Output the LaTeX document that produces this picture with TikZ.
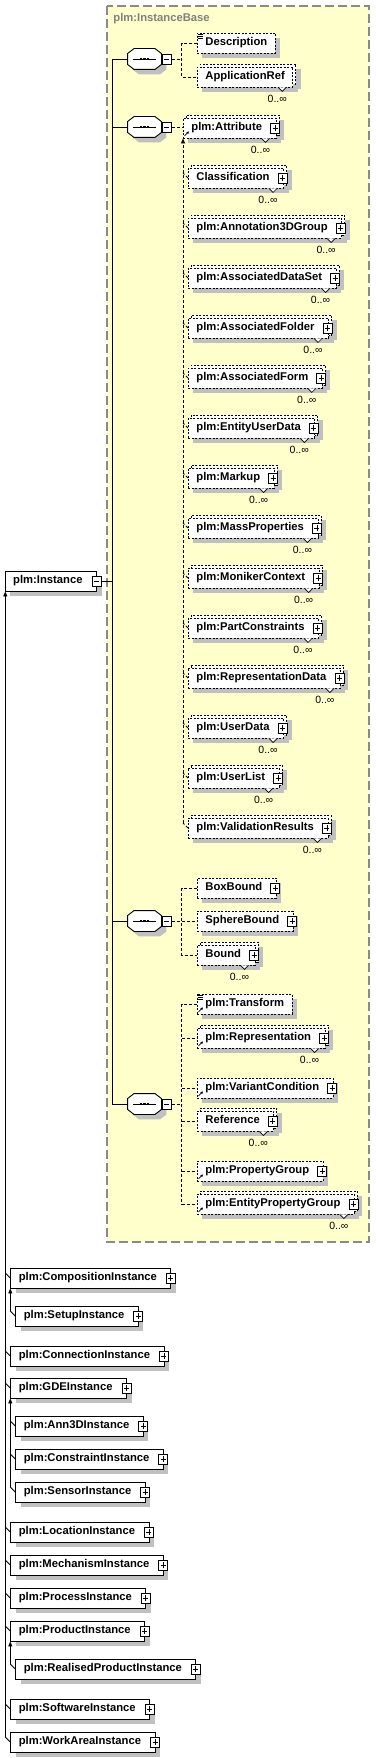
\documentclass[tikz,border=0pt]{standalone}
\usepackage{fontspec}
\setmainfont{Liberation Sans}
\usetikzlibrary{arrows.meta}

\definecolor{baseYellow}{HTML}{FFFFCC}
\definecolor{baseFrame}{HTML}{8A8A8A}
\definecolor{shadowGray}{HTML}{C0C0C0}
\definecolor{titleGray}{HTML}{808080}

% octagon round a compositor node
\newcommand\octo[1]{([xshift=6.5pt]#1.north west) -- ([xshift=-6.5pt]#1.north east)
  -- ([yshift=-5pt]#1.north east) -- ([yshift=5pt]#1.south east) -- ([xshift=-6.5pt]#1.south east)
  -- ([xshift=6.5pt]#1.south west) -- ([yshift=5pt]#1.south west) -- ([yshift=-5pt]#1.north west) -- cycle}

\begin{document}
\begin{tikzpicture}[x=1pt,y=-1pt,line width=0.9pt,
  dropgray/.style={preaction={fill=shadowGray,transform canvas={shift={(5pt,-5pt)}}}},
  solidbox/.style={draw,fill=white,anchor=west,minimum height=20pt,inner xsep=8pt,inner ysep=0pt,
    text height=8pt,text depth=2.5pt,font=\bfseries\fontsize{11.25}{13}\selectfont,dropgray},
  optbox/.style={solidbox,dash pattern=on 2pt off 1.5pt},
  many/.style={preaction={fill=shadowGray,transform canvas={shift={(8pt,-2pt)}}},
    preaction={draw,fill=white,dash pattern=on 2pt off 1.5pt,transform canvas={shift={(3pt,3pt)}}}},
  sign/.style={draw,solid,fill=white,line width=0.8pt,minimum width=9pt,minimum height=10pt,inner sep=0pt},
  mbox/.style={sign,path picture={\draw[line width=0.8pt] ([xshift=2pt]path picture bounding box.west)
    -- ([xshift=-2pt]path picture bounding box.east);}},
  pbox/.style={sign,path picture={\draw[line width=0.8pt] ([xshift=2pt]path picture bounding box.west)
    -- ([xshift=-2pt]path picture bounding box.east) ([yshift=-2pt]path picture bounding box.north)
    -- ([yshift=2pt]path picture bounding box.south);}},
  seq/.style={minimum width=33pt,minimum height=20pt,inner sep=0pt},
  link/.style={line width=0.9pt},
  conn/.style={line width=0.9pt,dash pattern=on 3pt off 2pt},
  uparrow/.style={-{Triangle[length=5pt,width=4pt]}},
  mult/.style={anchor=east,inner sep=0pt,font=\fontsize{10.5}{12}\selectfont},
  frame/.style={draw=baseFrame,fill=baseYellow,line width=1.2pt,dash pattern=on 9pt off 4pt}]
  \useasboundingbox (0,0) rectangle (375,1758);
  \draw[frame] (107,6) rectangle (369,1242);
  \node[anchor=west,text=titleGray,inner sep=0pt,font=\bfseries\fontsize{11.25}{13}\selectfont] (ttl) at (113,19) {plm:InstanceBase};

  % base type
  \node[solidbox] (inst) at (4.7,581) {plm:Instance\kern6pt};
  \node[mbox] (inst-m) at ([xshift=-0.5pt]inst.east) {};

  % sequences
  \foreach \s/\y in {s1/59,s2/127,s3/921,s4/1104} {
    \node[seq] (\s) at (144.5,\y) {};
    \fill[shadowGray,transform canvas={shift={(5pt,-5pt)}}] \octo{\s};
    \draw[fill=white] \octo{\s};
    \draw ([xshift=5pt]\s.west) -- ([xshift=-5pt]\s.east);
    \foreach \d in {-3.5,0,3.5}
      \fill ([xshift=\d pt]\s.center) +(-1.3pt,-1.4pt) rectangle +(1.3pt,1.4pt);
    \node[mbox] (\s-m) at ([xshift=5.5pt]\s.east) {};
  }

  \node[optbox] (desc) at (197,43) {Description};
  \node[optbox,many] (appref) at (197,77) {ApplicationRef};

  \node[optbox,many] (attr) at (183,128) {plm:Attribute\kern6pt};
  \foreach \i/\nm/\lab in {1/clas/Classification,2/annot/plm:Annotation3DGroup,3/dset/plm:AssociatedDataSet,
      4/fold/plm:AssociatedFolder,5/form/plm:AssociatedForm,6/eud/plm:EntityUserData,7/mark/plm:Markup,
      8/mass/plm:MassProperties,9/mon/plm:MonikerContext,10/pcon/plm:PartConstraints,
      11/rdat/plm:RepresentationData,12/udat/plm:UserData,13/ulist/plm:UserList,14/vres/plm:ValidationResults}
    \node[optbox,many] (\nm) at (188,128+50*\i) {\lab\kern6pt};

  \node[optbox] (boxb) at (197,888) {BoxBound\kern6pt};
  \node[optbox] (sphb) at (197,921) {SphereBound\kern6pt};
  \node[optbox,many] (bnd) at (197,955) {Bound\kern6pt};

  \node[optbox] (trf) at (197,1004) {plm:Transform};
  \node[optbox,many] (repr) at (197,1038) {plm:Representation\kern6pt};
  \node[optbox] (varc) at (197,1088) {plm:VariantCondition\kern6pt};
  \node[optbox,many] (refr) at (197,1121) {Reference\kern6pt};
  \node[optbox] (pgrp) at (197,1171) {plm:PropertyGroup\kern6pt};
  \node[optbox,many] (epg) at (197,1204) {plm:EntityPropertyGroup\kern6pt};

  % expand signs, occurrence marks
  \foreach \nm in {attr,clas,annot,dset,fold,form,eud,mark,mass,mon,pcon,rdat,udat,ulist,vres,
      boxb,sphb,bnd,repr,varc,refr,pgrp,epg}
    \node[pbox] (\nm-p) at ([xshift=-1.5pt]\nm.east) {};
  \foreach \nm in {appref,attr,clas,annot,dset,fold,form,eud,mark,mass,mon,pcon,rdat,udat,ulist,vres,
      bnd,repr,refr,epg} {
    \filldraw[fill=white,line width=0.7pt] ([xshift=-15pt]\nm.south east) -- ++(4,4) -- ++(4,-4);
    \node[mult] (\nm-m) at ([shift={(-6,11)}]\nm.south east) {0..∞};
  }
  \foreach \nm in {attr,trf,repr,varc,pgrp,epg}
    \draw[line width=0.7pt,-{Triangle[length=2.5pt,width=2.5pt]}] ([shift={(1.5,-2.5)}]\nm.south west) -- ++(4.5,-4.5);
  \foreach \nm in {desc,trf}
    \foreach \k in {1.5,3.5,5.5}
      \draw[line width=0.6pt] ([shift={(1,\k)}]\nm.north west) -- ++(5,0);

  % sequence links
  \draw[link] (s1.west) -- ++(-15.5,0) coordinate (strk);
  \draw[link] (strk) -- (strk |- s4.west) -- (s4.west);
  \foreach \s in {s2,s3} \draw[link] (strk |- \s.west) -- (\s.west);
  \draw[link] (inst-m.east) -- (strk |- inst-m.east);

  \draw[conn] (s1-m.east) -- ++(10,0) coordinate (j1);
  \draw[conn] (desc.west) -| (j1) |- (appref.west);
  \draw[conn] (s2-m.east) -- (s2-m.east -| attr.west);
  \path (vres.west) ++(-5,-5) coordinate (vt);
  \draw[conn,uparrow] (vt) -- (vt |- attr.south);
  \foreach \nm in {clas,annot,dset,fold,form,eud,mark,mass,mon,pcon,rdat,udat,ulist,vres}
    \draw[conn] (\nm.west) -- ++(-5,-5);
  \draw[conn] (s3-m.east) -- ++(10,0) coordinate (j3);
  \draw[conn] (boxb.west) -| (j3) |- (bnd.west);
  \draw[conn] (j3 |- sphb.west) -- (sphb.west);
  \draw[conn] (s4-m.east) -- ++(10,0) coordinate (j4);
  \draw[conn] (trf.west) -| (j4) |- (epg.west);
  \foreach \nm in {repr,varc,refr,pgrp} \draw[conn] (j4 |- \nm.west) -- (\nm.west);

  % derived types
  \foreach \nm/\x/\y/\lab in {comp/10.3/1278/plm:CompositionInstance,setup/15.3/1316/plm:SetupInstance,
      conn/10.3/1356/plm:ConnectionInstance,gde/10.3/1388/plm:GDEInstance,ann/15.3/1426/plm:Ann3DInstance,
      cons/15.3/1459/plm:ConstraintInstance,sens/15.3/1492/plm:SensorInstance,loc/10.3/1532/plm:LocationInstance,
      mech/10.3/1565/plm:MechanismInstance,proc/10.3/1598/plm:ProcessInstance,prod/10.3/1631/plm:ProductInstance,
      real/15.3/1669/plm:RealisedProductInstance,soft/10.3/1709/plm:SoftwareInstance,work/10.3/1742/plm:WorkAreaInstance} {
    \node[solidbox] (\nm) at (\x,\y) {\lab\kern6pt};
    \node[pbox] (\nm-p) at ([xshift=-0.5pt]\nm.east) {};
    \draw[link] (\nm.west) -- ++(-5,-5);
  }
  \foreach \lo/\hi in {work/inst,setup/comp,sens/gde,real/prod} {
    \path (\lo.west) ++(-5,-5) coordinate (\lo-t);
    \draw[link,uparrow] (\lo-t) -- (\lo-t |- \hi.south);
  }
\end{tikzpicture}
\end{document}
